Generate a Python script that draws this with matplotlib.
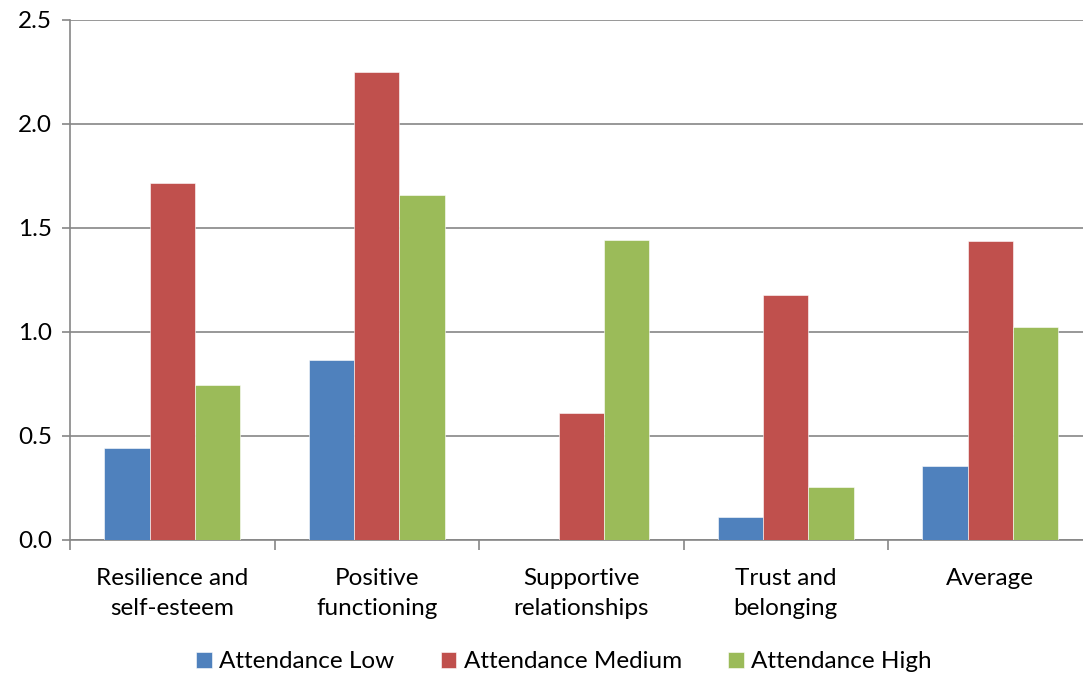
import numpy as np
import matplotlib.pyplot as plt

categories = ['Resilience and\nself-esteem', 'Positive\nfunctioning', 'Supportive\nrelationships',
              'Trust and\nbelonging', 'Average']
series_names = ['Attendance Low', 'Attendance Medium', 'Attendance High']
low = [0.44, 0.865, 0.0, 0.11, 0.355]
medium = [1.715, 2.25, 0.61, 1.178, 1.437]
high = [0.745, 1.66, 1.442, 0.255, 1.024]
colors = ['#4f81bd', '#c0504d', '#9bbb59']

plt.rcParams['font.family'] = ['Lato', 'DejaVu Sans']
fs = 17.5

fig = plt.figure(figsize=(10.83, 6.77), dpi=100)
# right edge runs past the figure like in the original
ax = fig.add_axes([70 / 1083, 1 - 540 / 677, 1022.5 / 1083, 520 / 677])

x = np.arange(len(categories))
w = 0.222
for i, (vals, name) in enumerate(zip([low, medium, high], series_names)):
    ax.bar(x + (i - 1) * w, vals, w, color=colors[i], label=name, zorder=3,
           edgecolor='white', linewidth=0.4)

ax.set_xlim(-0.5, len(categories) - 0.5)
ax.set_ylim(0, 2.5)
ax.set_yticks(np.arange(0, 2.51, 0.5))
ax.set_yticklabels(['%.1f' % v for v in np.arange(0, 2.51, 0.5)])
ax.yaxis.grid(True, color='#868686', linewidth=1.2, zorder=0)

ax.set_xticks(x)
ax.set_xticklabels(categories, linespacing=1.55)
ax.set_xticks(np.arange(-0.5, len(categories)), minor=True)
ax.tick_params(axis='x', which='major', length=0, pad=20, labelsize=fs)
ax.tick_params(axis='x', which='minor', length=7, width=1.2, color='#868686')
ax.tick_params(axis='y', length=6, width=1.2, color='#868686', labelsize=fs, pad=7)

for s in ['top', 'right']:
    ax.spines[s].set_visible(False)
for s in ['left', 'bottom']:
    ax.spines[s].set_color('#868686')
    ax.spines[s].set_linewidth(1.2)

fig.legend(loc='center', bbox_to_anchor=(564 / 1083, 1 - 662 / 677), ncol=3, frameon=False,
           fontsize=fs, handlelength=0.65, handleheight=0.65, handletextpad=0.3, columnspacing=1.9)

fig.savefig('out.png', dpi=100)
